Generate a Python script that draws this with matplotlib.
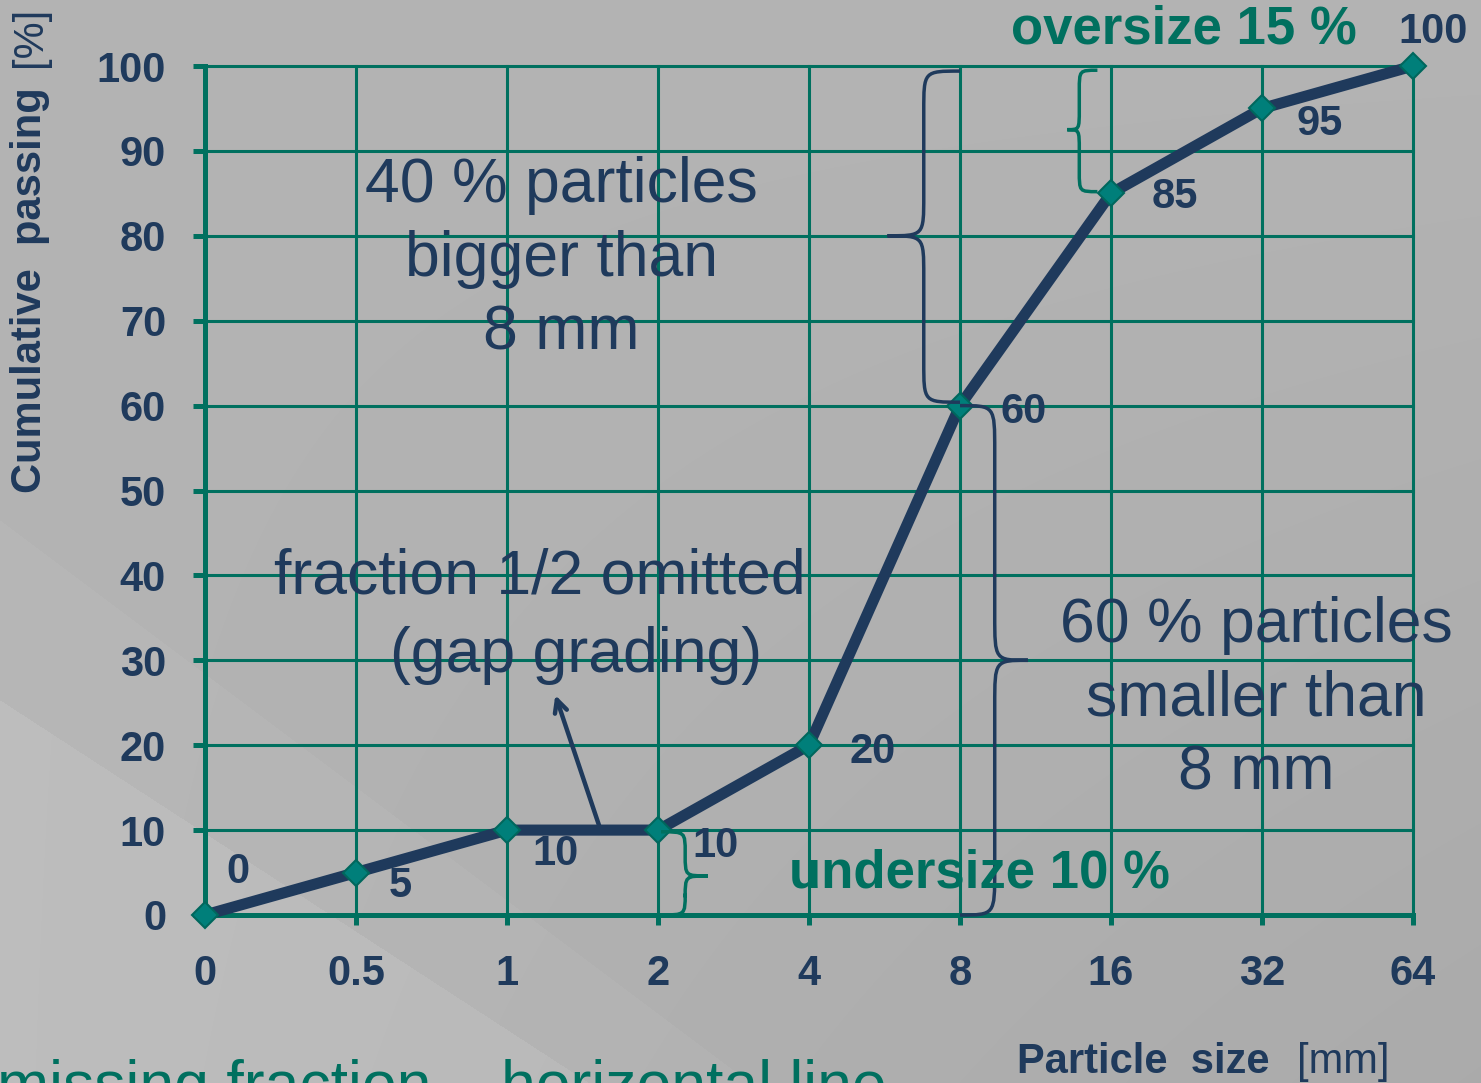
import numpy as np
import matplotlib
matplotlib.use("Agg")
from matplotlib import pyplot as plt
from matplotlib.path import Path
from matplotlib.patches import PathPatch

# sieve sizes [mm] and cumulative passing [%]
sizes = ['0', '0.5', '1', '2', '4', '8', '16', '32', '64']
passing = [0, 5, 10, 10, 20, 60, 85, 95, 100]
yticks = [0, 10, 20, 30, 40, 50, 60, 70, 80, 90, 100]

NAVY = '#1f3a5c'
TEAL = '#00705f'
MARK = '#007f7a'
FONT = ['Liberation Sans', 'DejaVu Sans']

plt.rcParams['font.family'] = FONT

W, H = 1481, 1083
fig = plt.figure(figsize=(W / 100, H / 100), dpi=100)

# grey backdrop with a lighter diagonal band in the lower left
bg = fig.add_axes([0, 0, 1, 1], zorder=-5)
yy, xx = np.mgrid[0:H, 0:W]
shade = 0.705 - 0.035 * (yy / H) * (xx / W)
shade = shade + 0.012 * (yy > 520 + 0.75 * xx)
shade = shade + 0.025 * (yy > 700 + 0.65 * xx)
bg.imshow(np.dstack([shade] * 3), aspect='auto', interpolation='bilinear')
bg.axis('off')

ax = fig.add_axes([205 / W, 1 - 915 / H, (1413 - 205) / W, (915 - 66) / H])
ax.set_facecolor('none')
x = np.arange(len(sizes))

ax.plot(x, passing, color=NAVY, lw=8, solid_joinstyle='round', zorder=4,
        marker='D', markersize=13, markerfacecolor=MARK, markeredgecolor='#00675d',
        markeredgewidth=1.5, clip_on=False)

ax.set_xlim(0, 8)
ax.set_ylim(0, 100)
ax.set_xticks(x)
ax.set_xticklabels(sizes)
ax.set_yticks(yticks)
ax.grid(True, color=TEAL, lw=2.2)
for gl in ax.get_xgridlines() + ax.get_ygridlines():
    gl.set_clip_on(False)
ax.set_axisbelow(True)
for s in ['top', 'right']:
    ax.spines[s].set_visible(False)
for s in ['left', 'bottom']:
    ax.spines[s].set_color(TEAL)
    ax.spines[s].set_linewidth(3.6)
ax.tick_params(axis='y', direction='out', length=9, width=3.6, color=TEAL, pad=19,
               labelsize=30, labelcolor=NAVY)
ax.tick_params(axis='x', direction='out', length=7, width=3.6, color=TEAL, pad=21,
               labelsize=30, labelcolor=NAVY)
for lab in ax.get_xticklabels() + ax.get_yticklabels():
    lab.set_fontweight('bold')

# value labels next to each point
label_off = [(0.22, 3.8), (0.29, -2.9), (0.32, -4.1), (0.38, -3.2), (0.42, -2.1),
             (0.42, -2.1), (0.42, -1.7), (0.38, -3.1), (0.13, 2.7)]
for i, v in enumerate(passing):
    dx, dy = label_off[i]
    ax.text(i + dx, v + dy, str(v), ha='center', va='baseline', fontsize=30,
            fontweight='bold', color=NAVY, clip_on=False, zorder=6)


def brace(xe, xs, xt, y0, y1, ym, r, color, lw=2.5):
    # curly brace: ends at xe, spine at xs, tip at xt, spanning y0..y1
    verts = [(xe, y1), (xs, y1), (xs, y1), (xs, y1 - r),
             (xs, ym + r),
             (xs, ym), (xs, ym), (xt, ym),
             (xs, ym), (xs, ym), (xs, ym - r),
             (xs, y0 + r),
             (xs, y0), (xs, y0), (xe, y0)]
    codes = [Path.MOVETO, Path.CURVE4, Path.CURVE4, Path.CURVE4,
             Path.LINETO,
             Path.CURVE4, Path.CURVE4, Path.CURVE4,
             Path.CURVE4, Path.CURVE4, Path.CURVE4,
             Path.LINETO,
             Path.CURVE4, Path.CURVE4, Path.CURVE4]
    ax.add_patch(PathPatch(Path(verts, codes), fill=False, ec=color, lw=lw,
                           clip_on=False, zorder=5))


brace(5.0, 4.76, 4.52, 60.4, 99.4, 80.0, 4.7, NAVY)
brace(5.0, 5.23, 5.45, 0.0, 60.0, 30.0, 5.3, NAVY)
brace(5.91, 5.79, 5.71, 85.2, 99.5, 92.5, 2.4, TEAL)
brace(3.02, 3.18, 3.33, 0.0, 9.8, 4.6, 2.5, TEAL)

# annotations
ax.text(2.36, 77.2, '40 % particles\nbigger than\n8 mm', ha='center', va='center',
        fontsize=45, color=NAVY, linespacing=1.32, zorder=6)
ax.text(6.96, 25.4, '60 % particles\nsmaller than\n8 mm', ha='center', va='center',
        fontsize=45, color=NAVY, linespacing=1.32, zorder=6)
ax.text(2.22, 39.8, 'fraction 1/2 omitted', ha='center', va='center',
        fontsize=45, color=NAVY, zorder=6)
ax.text(2.46, 30.6, '(gap grading)', ha='center', va='center',
        fontsize=45, color=NAVY, zorder=6)
ax.annotate('', xy=(2.32, 25.9), xytext=(2.62, 10.0),
            arrowprops=dict(arrowstyle='->,head_length=0.9,head_width=0.45',
                            color=NAVY, lw=3.2, shrinkA=0, shrinkB=0), zorder=6)
ax.text(6.48, 102.6, 'oversize 15 %', ha='center', va='baseline', fontsize=38,
        fontweight='bold', color=TEAL, clip_on=False, zorder=6)
ax.text(5.13, 3.2, 'undersize 10 %', ha='center', va='baseline', fontsize=38,
        fontweight='bold', color=TEAL, zorder=6)

# axis titles
fig.text(30 / W, 1 - 290 / H, 'Cumulative  passing', rotation=90, ha='center',
         va='center', fontsize=30, fontweight='bold', color=NAVY)
fig.text(30 / W, 1 - 37 / H, '[%]', rotation=90, ha='center', va='center',
         fontsize=30, color=NAVY)
fig.text(1017 / W, 1 - 1073 / H, 'Particle  size', ha='left', va='baseline',
         fontsize=30, fontweight='bold', color=NAVY)
fig.text(1390 / W, 1 - 1073 / H, '[mm]', ha='right', va='baseline',
         fontsize=30, color=NAVY)

# caption running off the lower edge
fig.text(-3 / W, 1 - 1105 / H, 'missing fraction – horizontal line', ha='left',
         va='baseline', fontsize=45, color=TEAL)

fig.savefig('out.png', dpi=100)
